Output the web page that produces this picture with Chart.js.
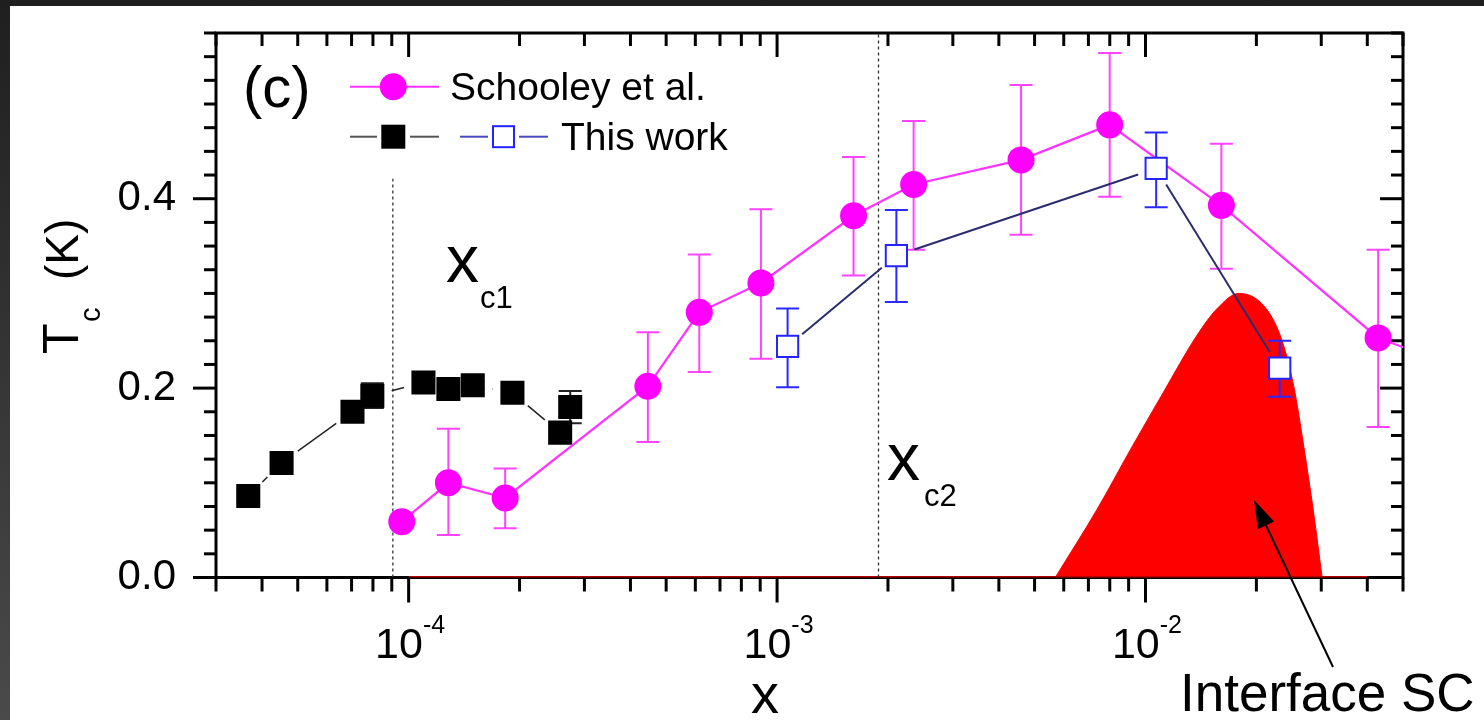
<!DOCTYPE html>
<html>
<head>
<meta charset="utf-8">
<title>Tc vs x</title>
<script src="https://cdn.jsdelivr.net/npm/chart.js@4.4.1/dist/chart.umd.min.js"></script>
<style>
  html, body { margin: 0; padding: 0; }
  body { width: 1484px; height: 720px; overflow: hidden; position: relative;
         background: linear-gradient(to bottom, #1f1f1f, #4a4a4a); }
  #wrap { position: absolute; left: 10px; top: 6px; width: 1474px; height: 714px; background: #fff; }
</style>
</head>
<body>
<div id="wrap"><canvas id="tcChart"></canvas></div>
<script>
// this work, filled squares (low x)
var blackX   = [3.67e-5, 4.52e-5, 7.04e-5, 7.97e-5, 1.097e-4, 1.282e-4, 1.493e-4, 1.913e-4, 2.578e-4, 2.745e-4];
var blackTc  = [0.086, 0.121, 0.175, 0.192, 0.206, 0.199, 0.203, 0.195, 0.153, 0.180];
var blackErr = [0.004, 0.004, 0.005, 0.013, 0.005, 0.004, 0.004, 0.005, 0.005, 0.017];

// Schooley et al.
var schX  = [9.58e-5, 1.282e-4, 1.828e-4, 4.46e-4, 6.15e-4, 9.04e-4, 1.613e-3, 2.348e-3, 4.595e-3, 7.995e-3, 1.607e-2, 4.28e-2, 8.0e-2];
var schTc = [0.059, 0.100, 0.084, 0.202, 0.280, 0.311, 0.382, 0.415, 0.441, 0.478, 0.393, 0.253, 0.214];
var schLo = [null, 0.045, 0.052, 0.143, 0.217, 0.231, 0.319, 0.346, 0.362, 0.402, 0.326, 0.159, null];
var schHi = [null, 0.157, 0.115, 0.259, 0.341, 0.389, 0.444, 0.482, 0.520, 0.554, 0.458, 0.346, null];

// this work, open squares
var blueX  = [1.068e-3, 2.108e-3, 1.069e-2, 2.314e-2];
var blueTc = [0.244, 0.340, 0.432, 0.221];
var blueLo = [0.201, 0.291, 0.391, 0.191];
var blueHi = [0.284, 0.388, 0.470, 0.250];

// interface SC dome and its zero baseline
var domeX  = [5.69e-3, 7.39e-3, 9.10e-3, 1.120e-2, 1.381e-2, 1.565e-2, 1.791e-2, 2.094e-2, 2.324e-2, 2.526e-2, 2.688e-2, 2.861e-2, 3.017e-2];
var domeTc = [0, 0.072, 0.135, 0.196, 0.256, 0.284, 0.300, 0.287, 0.255, 0.202, 0.139, 0.068, 0];
var baseX  = [1e-4, 4e-2];
var baseTc = [0, 0];

// critical concentrations (dotted lines)
var xc1 = 9.06e-5, xc1Top = 0.421;
var xc2 = 1.885e-3, xc2Top = 0.575;

var xMin = 3e-5, xMax = 0.05;
var yMin = 0, yMax = 0.575;
var xLabelDecades = [-4, -3, -2];

var FONT = "'Liberation Sans', Arial, sans-serif";
Chart.defaults.font.family = FONT;

function pts(xs, ys) {
  return xs.map(function (x, i) { return { x: x, y: ys[i] }; });
}

function drawErrBars(chart, ds, meta) {
  var ys = chart.scales.y, ctx = chart.ctx, cap = 11.5;
  ctx.save();
  ctx.strokeStyle = ds.errColor;
  ctx.lineWidth = 2;
  meta.data.forEach(function (p, i) {
    if (ds.errLo[i] == null) return;
    var y1 = ys.getPixelForValue(ds.errLo[i]), y2 = ys.getPixelForValue(ds.errHi[i]);
    ctx.beginPath();
    ctx.moveTo(p.x, y1); ctx.lineTo(p.x, y2);
    ctx.moveTo(p.x - cap, y1); ctx.lineTo(p.x + cap, y1);
    ctx.moveTo(p.x - cap, y2); ctx.lineTo(p.x + cap, y2);
    ctx.stroke();
  });
  ctx.restore();
}

// connecting line that stops short of each marker, like the original
function drawGapLine(chart, ds, meta) {
  var ctx = chart.ctx, p = meta.data, g = ds.gap;
  ctx.save();
  ctx.strokeStyle = ds.gapColor;
  ctx.lineWidth = ds.gapWidth;
  for (var i = 0; i < p.length - 1; i++) {
    var dx = p[i + 1].x - p[i].x, dy = p[i + 1].y - p[i].y, d = Math.hypot(dx, dy);
    if (d <= 2 * g) continue;
    var ux = dx / d, uy = dy / d;
    ctx.beginPath();
    ctx.moveTo(p[i].x + ux * g, p[i].y + uy * g);
    ctx.lineTo(p[i + 1].x - ux * g, p[i + 1].y - uy * g);
    ctx.stroke();
  }
  ctx.restore();
}

function line(ctx, x1, y1, x2, y2) {
  ctx.beginPath(); ctx.moveTo(x1, y1); ctx.lineTo(x2, y2); ctx.stroke();
}

var decor = {
  id: 'decor',
  beforeDatasetsDraw: function (chart) {
    var ctx = chart.ctx, a = chart.chartArea, xs = chart.scales.x, ys = chart.scales.y;
    ctx.save();
    ctx.strokeStyle = '#000';
    ctx.lineWidth = 3;
    ctx.strokeRect(a.left, a.top, a.right - a.left, a.bottom - a.top);
    // y ticks: out on the left, in on the right
    for (var k = 0; k <= 23; k++) {
      var v = k * 0.025, y = ys.getPixelForValue(v), major = (k % 8 === 0);
      line(ctx, a.left - (major ? 23 : 12), y, a.left, y);
      line(ctx, a.right - (major ? 23 : 12), y, a.right, y);
    }
    // x ticks: out at the bottom, in at the top
    for (var e = -5; e <= -1; e++) {
      for (var m = 1; m <= 9; m++) {
        var xv = m * Math.pow(10, e);
        if (xv < xMin * 0.999 || xv > xMax * 1.001) continue;
        var x = xs.getPixelForValue(xv), big = (m === 1);
        line(ctx, x, a.bottom, x, a.bottom + (big ? 25 : 14));
        line(ctx, x, a.top, x, a.top + (big ? 24 : 13));
      }
    }
    ctx.restore();
  },
  beforeDatasetDraw: function (chart, args) {
    var ds = chart.data.datasets[args.index];
    if (ds.gapColor) drawGapLine(chart, ds, args.meta);
    if (ds.errLo) drawErrBars(chart, ds, args.meta);
  },
  afterDraw: function (chart) {
    var ctx = chart.ctx, xs = chart.scales.x;
    ctx.save();
    ctx.fillStyle = '#000';
    ctx.textBaseline = 'alphabetic';

    // x tick labels 10^n
    xLabelDecades.forEach(function (n) {
      var px = xs.getPixelForValue(Math.pow(10, n));
      ctx.font = '43px ' + FONT;
      var w1 = ctx.measureText('10').width;
      ctx.font = '25px ' + FONT;
      var w2 = ctx.measureText(String(n)).width;
      var x0 = px + 1.5 - (w1 + w2) / 2;
      ctx.font = '43px ' + FONT;
      ctx.fillText('10', x0, 652);
      ctx.font = '25px ' + FONT;
      ctx.fillText(String(n), x0 + w1, 627);
    });

    // axis titles
    ctx.font = '56px ' + FONT;
    ctx.textAlign = 'center';
    ctx.fillText('x', 755, 707);
    ctx.textAlign = 'left';

    ctx.save();
    ctx.translate(68, 348);
    ctx.rotate(-Math.PI / 2);
    ctx.font = '50px ' + FONT;
    ctx.fillText('T', 0, 0);
    ctx.font = '29px ' + FONT;
    ctx.fillText('c', 32, 22);
    ctx.font = '46px ' + FONT;
    ctx.fillText('(K)', 74, 0);
    ctx.restore();

    // panel label and annotations
    ctx.font = '58px ' + FONT;
    ctx.fillText('(c)', 233, 101);

    ctx.font = '66px ' + FONT;
    ctx.fillText('x', 436, 276);
    ctx.fillText('x', 877, 474);
    ctx.font = '31px ' + FONT;
    ctx.fillText('c1', 470, 302);
    ctx.fillText('c2', 914, 500);

    ctx.font = '53px ' + FONT;
    ctx.fillText('Interface SC', 1170, 705);

    // arrow to the dome
    var tx = 1323, ty = 661, hx = 1244, hy = 494;
    var ang = Math.atan2(hy - ty, hx - tx), L = 28, W = 9;
    ctx.strokeStyle = '#000';
    ctx.lineWidth = 2;
    line(ctx, tx, ty, hx - Math.cos(ang) * L * 0.8, hy - Math.sin(ang) * L * 0.8);
    ctx.beginPath();
    ctx.moveTo(hx, hy);
    ctx.lineTo(hx - Math.cos(ang) * L - Math.sin(ang) * W, hy - Math.sin(ang) * L + Math.cos(ang) * W);
    ctx.lineTo(hx - Math.cos(ang) * L + Math.sin(ang) * W, hy - Math.sin(ang) * L - Math.cos(ang) * W);
    ctx.closePath();
    ctx.fill();

    // legend
    ctx.lineWidth = 2;
    ctx.strokeStyle = '#ff33ff';
    line(ctx, 340, 80.7, 429, 80.7);
    ctx.fillStyle = '#ff00ff';
    ctx.beginPath(); ctx.arc(383.3, 80.7, 13.5, 0, Math.PI * 2); ctx.fill();

    ctx.strokeStyle = '#555';
    line(ctx, 340, 130.7, 367, 130.7);
    line(ctx, 400, 130.7, 429, 130.7);
    ctx.fillStyle = '#000';
    ctx.fillRect(371.3, 118.7, 24, 24);

    ctx.strokeStyle = '#4a4ac0';
    line(ctx, 450, 130.7, 478, 130.7);
    line(ctx, 509, 130.7, 538, 130.7);
    ctx.fillStyle = '#fff';
    ctx.fillRect(483, 120.2, 21, 21);
    ctx.strokeStyle = '#2424ff';
    ctx.strokeRect(483, 120.2, 21, 21);

    ctx.fillStyle = '#000';
    ctx.font = '39px ' + FONT;
    ctx.fillText('Schooley et al.', 440, 94);
    ctx.fillText('This work', 551, 144);
    ctx.restore();
  }
};

function noPad(s) {
  s.paddingTop = 0; s.paddingBottom = 0; s.paddingLeft = 0; s.paddingRight = 0;
}

var ctx = document.getElementById('tcChart').getContext('2d');
var tcChart = new Chart(ctx, {
  type: 'line',
  data: {
    datasets: [
      {
        label: 'This work (open)',
        data: pts(blueX, blueTc),
        showLine: false,
        pointStyle: 'rect',
        pointRadius: 15,
        pointBackgroundColor: '#fff',
        pointBorderColor: '#2424ff',
        pointBorderWidth: 2,
        errLo: blueLo, errHi: blueHi, errColor: '#2a2aff',
        gapColor: '#2b2b70', gapWidth: 2, gap: 19,
        order: 1
      },
      {
        label: 'Schooley et al.',
        data: pts(schX, schTc),
        borderColor: '#ff33ff',
        borderWidth: 2.2,
        pointRadius: 13.5,
        pointBackgroundColor: '#ff00ff',
        pointBorderWidth: 0,
        errLo: schLo, errHi: schHi, errColor: '#ff44ff',
        clip: 0,
        order: 2
      },
      {
        label: 'This work',
        data: pts(blackX, blackTc),
        showLine: false,
        pointStyle: 'rect',
        pointRadius: 17,
        pointBackgroundColor: '#000',
        pointBorderWidth: 0,
        errLo: blackTc.map(function (v, i) { return v - blackErr[i]; }),
        errHi: blackTc.map(function (v, i) { return v + blackErr[i]; }),
        errColor: '#222',
        gapColor: '#222', gapWidth: 1.5, gap: 20,
        order: 3
      },
      {
        label: 'xc1',
        data: [{ x: xc1, y: 0 }, { x: xc1, y: xc1Top }],
        borderColor: '#333', borderWidth: 1.3, borderDash: [3, 3],
        pointRadius: 0,
        order: 8
      },
      {
        label: 'xc2',
        data: [{ x: xc2, y: 0 }, { x: xc2, y: xc2Top }],
        borderColor: '#333', borderWidth: 1.3, borderDash: [3, 3],
        pointRadius: 0,
        order: 8
      },
      {
        label: 'baseline',
        data: pts(baseX, baseTc),
        borderColor: '#b00000',
        borderWidth: 3,
        pointRadius: 0,
        order: 9
      },
      {
        label: 'Interface SC',
        data: pts(domeX, domeTc),
        fill: 'origin',
        backgroundColor: '#ff0000',
        borderColor: '#ff0000',
        borderWidth: 1,
        cubicInterpolationMode: 'monotone',
        pointRadius: 0,
        order: 10
      }
    ]
  },
  options: {
    responsive: true,
    maintainAspectRatio: false,
    animation: false,
    events: [],
    layout: { padding: { left: 0, top: 27, right: 81, bottom: 0 } },
    plugins: { legend: { display: false }, tooltip: { enabled: false } },
    scales: {
      x: {
        type: 'logarithmic',
        min: xMin, max: xMax,
        grid: { display: false, drawTicks: false },
        border: { display: false },
        ticks: { display: false },
        afterFit: function (s) { s.height = 142.5; noPad(s); }
      },
      y: {
        min: yMin, max: yMax,
        grid: { display: false, drawTicks: false },
        border: { display: false },
        ticks: {
          stepSize: 0.025,
          autoSkip: false,
          padding: 40,
          color: '#000',
          font: { size: 42 },
          callback: function (v) {
            var r = v / 0.2;
            return Math.abs(r - Math.round(r)) < 1e-6 ? v.toFixed(1) : '';
          }
        },
        afterFit: function (s) { s.width = 206; noPad(s); }
      }
    }
  },
  plugins: [decor]
});
</script>
</body>
</html>
